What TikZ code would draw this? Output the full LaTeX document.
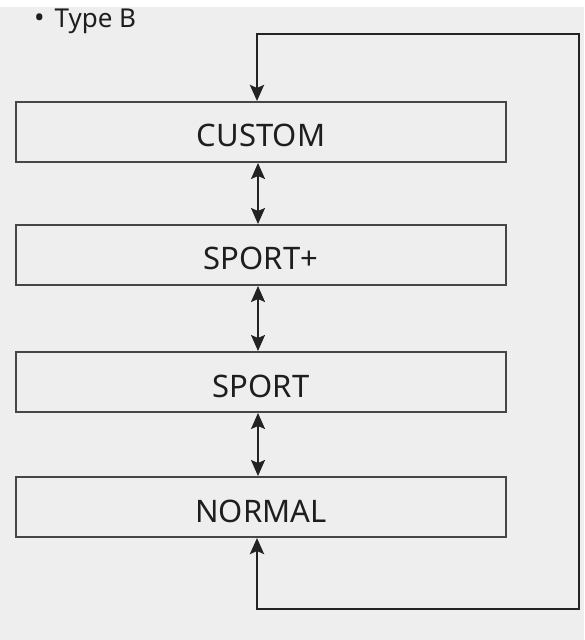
\documentclass[tikz,border=0pt]{standalone}
\usepackage{fontspec}
\setmainfont{Noto Sans}
\usetikzlibrary{arrows.meta}
\definecolor{canvasbg}{RGB}{255,255,255}
\definecolor{panelbg}{RGB}{238,238,238}
\definecolor{boxline}{RGB}{70,70,70}
\definecolor{loopline}{RGB}{35,35,35}
\definecolor{labeltext}{RGB}{30,30,30}

\begin{document}
\begin{tikzpicture}[x=0.5pt, y=-0.5pt,
    modebox/.style={draw=boxline, line width=1pt, fill=panelbg, minimum width=245pt,
        minimum height=30pt, inner sep=0pt, text=labeltext, text height=15pt, text depth=0pt,
        font=\fontsize{15.5}{18}\selectfont},
    modearrow/.style={{Stealth[length=8pt,width=7pt,inset=1.5pt]}-{Stealth[length=8pt,width=7pt,inset=1.5pt]},
        color=loopline, line width=0.9pt},
    looparrow/.style={{Stealth[length=8pt,width=7pt,inset=1.5pt]}-{Stealth[length=8pt,width=7pt,inset=1.5pt]},
        color=loopline, line width=1.4pt}]

    % 1. Canvas
    \fill[canvasbg] (0,0) rectangle (584,640);
    \fill[panelbg] (0,7) rectangle (584,640);
    \useasboundingbox (0,0) rectangle (584,640);

    % 2. Heading
    \node[anchor=west, text=labeltext, font=\fontsize{13}{15}\selectfont] (typeb) at (27,21)
        {{\fontsize{14}{14}\selectfont\textbullet}\hspace{5pt}Type B};

    % 3. Mode boxes
    \node[modebox] (custom)    at (261,132) {CUSTOM};
    \node[modebox] (sportplus) at (261,255) {SPORT+};
    \node[modebox] (sport)     at (261,382) {SPORT};
    \node[modebox] (normal)    at (261,507) {NORMAL};

    % 4. Switching arrows
    \draw[modearrow] ([xshift=-1.5pt]custom.south) -- ([xshift=-1.5pt]sportplus.north);
    \draw[modearrow] ([xshift=-1.5pt]sportplus.south) -- ([xshift=-1.5pt]sport.north);
    \draw[modearrow] ([xshift=-1.5pt]sport.south) -- ([xshift=-1.5pt]normal.north);

    % 5. Return loop
    \coordinate (loopbr) at (579,609);
    \coordinate (looptr) at (579,34);
    \draw[looparrow] ([xshift=-2pt]normal.south) |- (loopbr) -- (looptr)
        -| ([xshift=-2pt]custom.north);

\end{tikzpicture}
\end{document}
